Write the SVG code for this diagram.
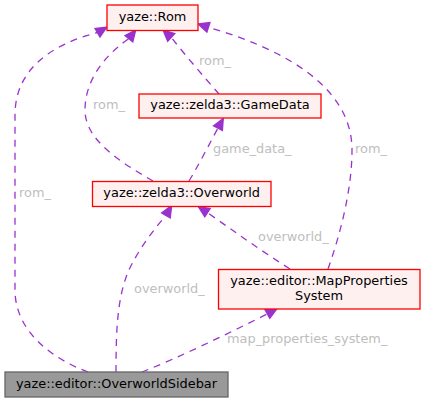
<svg xmlns="http://www.w3.org/2000/svg" width="425" height="403" viewBox="0 0 425 403">
<style>
  .node rect { fill: #fff0f0; stroke: #ff0000; stroke-width: 1.3; }
  .node.main rect { fill: #999999; stroke: #666666; }
  .node text { font-family: "DejaVu Sans", sans-serif; font-size: 12.9px; fill: #000000; text-anchor: middle; }
  .edges path { fill: none; stroke: #9a32cd; stroke-width: 1.3; stroke-dasharray: 7,6; }
  .edges polygon { fill: #9a32cd; stroke: #9a32cd; stroke-width: 1.3; }
  .edges text { font-family: "DejaVu Sans", sans-serif; font-size: 12.9px; fill: #bebebe; }
</style>
<rect width="425" height="403" fill="#ffffff"/>
<g id="edges" class="edges">
  <!-- Sidebar -> Rom (left) -->
  <path d="M88,372 C50,358 15,330 15,290 L15,115 C15,70 50,45 97.4,32.5"/>
  <polygon points="107,27 100,37 95,28.5"/>
  <text x="19" y="197">rom_</text>
  <!-- Overworld -> Rom -->
  <path d="M153,181 C120,162 85,140 85,110 C85,80 105,55 128.9,38.6"/>
  <polygon points="135.7,30 132.8,41.9 125,35.6"/>
  <text x="93" y="109">rom_</text>
  <!-- GameData -> Rom -->
  <path d="M219,94 C205,78 185,55 171.2,37.3"/>
  <polygon points="163,30 174.8,33.6 167.7,41.3"/>
  <text x="199" y="65">rom_</text>
  <!-- MapProps -> Rom -->
  <path d="M328,269 C340,235 352,190 352,150 C352,85 280,48 208.5,27.4"/>
  <polygon points="198,24 210,22.6 206.9,32.2"/>
  <text x="355" y="153">rom_</text>
  <!-- Overworld -> GameData -->
  <path d="M189,181 C197,168 210,143 217.9,128.1"/>
  <polygon points="223.3,118.3 222.4,130.5 213.5,125.8"/>
  <text x="213" y="153">game_data_</text>
  <!-- MapProps -> Overworld -->
  <path d="M290,269 C260,250 235,232 207.5,212.7"/>
  <polygon points="198.3,206.7 210.2,208.5 204.8,216.9"/>
  <text x="258" y="241">overworld_</text>
  <!-- Sidebar -> Overworld -->
  <path d="M116,372 C116,330 117,290 133,262 C142,245 155,228 165.9,215.5"/>
  <polygon points="171.7,205.5 170.2,218 161.6,212.9"/>
  <text x="134" y="293">overworld_</text>
  <!-- Sidebar -> MapProps -->
  <path d="M142,372 C180,357 225,335 267.4,313.9"/>
  <polygon points="277,308.5 269.8,318.3 264.9,309.6"/>
  <text x="227" y="343">map_properties_system_</text>
</g>
<g id="node-rom" class="node">
  <rect x="107" y="5" width="91" height="25.5"/>
  <text x="152.5" y="21">yaze::Rom</text>
</g>
<g id="node-gamedata" class="node">
  <rect x="139" y="94" width="182" height="24"/>
  <text x="230" y="109.3">yaze::zelda3::GameData</text>
</g>
<g id="node-overworld" class="node">
  <rect x="92.5" y="181.5" width="178.5" height="25"/>
  <text x="181.7" y="197.3">yaze::zelda3::Overworld</text>
</g>
<g id="node-mapprops" class="node">
  <rect x="218.5" y="269.5" width="201.5" height="39.5"/>
  <text x="319" y="285">yaze::editor::MapProperties</text>
  <text x="319" y="299.5">System</text>
</g>
<g id="node-sidebar" class="node main">
  <rect x="5" y="372" width="223" height="25"/>
  <text x="116.5" y="387.7">yaze::editor::OverworldSidebar</text>
</g>
</svg>
